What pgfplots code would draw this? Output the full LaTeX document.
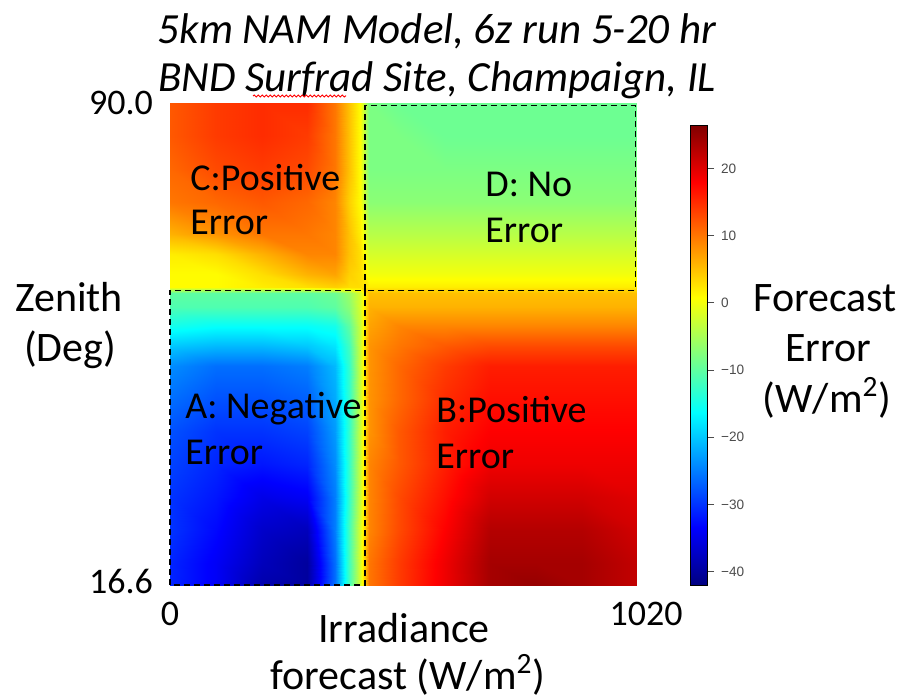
\documentclass[border=0pt]{standalone}
\usepackage{fontspec}
\setmainfont{Carlito}
\newfontfamily\cbfont{Liberation Sans}
\usepackage{pgfplots}
\pgfplotsset{compat=1.18}
\usetikzlibrary{decorations.pathmorphing}

\begin{document}
\begin{tikzpicture}
\path[use as bounding box] (0,0) rectangle (450pt,348.5pt);
\begin{axis}[
  at={(85pt,56pt)}, anchor=south west,
  width=233.5pt, height=241pt, scale only axis,
  xmin=0, xmax=1020, ymin=16.6, ymax=90,
  enlargelimits=false, clip=false,
  axis line style={draw=none},
  major tick length=0pt,
  xtick={0,1020}, ytick={16.6,90},
  xticklabels={0,\phantom{0}1020},
  yticklabels={\raisebox{3.5pt}{16.6},\raisebox{-1pt}{90.0}},
  ticklabel style={font=\fontsize{18}{20}\selectfont},
  xticklabel style={yshift=-5pt},
  yticklabel style={xshift=-5pt},
  colormap/jet,
  point meta min=-42, point meta max=26.5,
  colorbar,
  colorbar style={
    scale only axis,
    at={(parent axis.south east)}, anchor=south west, xshift=18pt,
    width=8.5pt, height=230pt,
    ytick={-40,-30,-20,-10,0,10,20},
    yticklabels={−40,−30,−20,−10,0,10,20},
    yticklabel style={font=\cbfont\fontsize{6.8}{7}\selectfont, text=black!70},
    ytick pos=right, yticklabel pos=right,
    major tick length=3.5pt,
    tick align=outside,
    tick style={black!70, line width=0.5pt},
    axis line style={black, line width=0.4pt},
  },
]
% x: 0 100 200 300 360 390 415 435 500 600 700 800 900 1020
\addplot[surf, shader=interp, mesh/cols=14, point meta=explicit] coordinates {
(0,16.6)[-31] (100,16.6)[-34] (200,16.6)[-39] (300,16.6)[-40] (360,16.6)[-26] (390,16.6)[-12] (415,16.6)[-2] (435,16.6)[10] (500,16.6)[14] (600,16.6)[19] (700,16.6)[24] (800,16.6)[25] (900,16.6)[24] (1020,16.6)[22]
(0,20)[-31] (100,20)[-34] (200,20)[-38] (300,20)[-40] (360,20)[-26] (390,20)[-12] (415,20)[-2] (435,20)[10] (500,20)[14] (600,20)[19] (700,20)[24] (800,20)[24] (900,20)[24] (1020,20)[22]
(0,25)[-30] (100,25)[-33] (200,25)[-37] (300,25)[-38] (360,25)[-25] (390,25)[-12] (415,25)[-2] (435,25)[9] (500,25)[13] (600,25)[18] (700,25)[23] (800,25)[23] (900,25)[23] (1020,25)[21]
(0,30)[-30] (100,30)[-32] (200,30)[-35] (300,30)[-34] (360,30)[-25] (390,30)[-13] (415,30)[-3] (435,30)[9] (500,30)[13] (600,30)[17] (700,30)[21] (800,30)[21] (900,30)[21] (1020,30)[20]
(0,35)[-29] (100,35)[-31] (200,35)[-32] (300,35)[-31] (360,35)[-24] (390,35)[-13] (415,35)[-3] (435,35)[9] (500,35)[12] (600,35)[16] (700,35)[19] (800,35)[19] (900,35)[19] (1020,35)[19]
(0,40)[-28] (100,40)[-30] (200,40)[-30] (300,40)[-29] (360,40)[-23] (390,40)[-13] (415,40)[-3] (435,40)[8] (500,40)[12] (600,40)[16] (700,40)[18] (800,40)[18] (900,40)[18] (1020,40)[18]
(0,45)[-26] (100,45)[-28] (200,45)[-28] (300,45)[-27] (360,45)[-22] (390,45)[-13] (415,45)[-3] (435,45)[8] (500,45)[11] (600,45)[15] (700,45)[17] (800,45)[17] (900,45)[17] (1020,45)[17]
(0,50)[-24] (100,50)[-26] (200,50)[-26] (300,50)[-25] (360,50)[-21] (390,50)[-13] (415,50)[-3] (435,50)[8] (500,50)[11] (600,50)[14] (700,50)[16] (800,50)[16] (900,50)[16] (1020,50)[16]
(0,53)[-20] (100,53)[-21] (200,53)[-21] (300,53)[-20] (360,53)[-18] (390,53)[-12] (415,53)[-3] (435,53)[8] (500,53)[10] (600,53)[12] (700,53)[13] (800,53)[13] (900,53)[13] (1020,53)[13]
(0,56)[-15] (100,56)[-16] (200,56)[-16] (300,56)[-16] (360,56)[-15] (390,56)[-10] (415,56)[-3] (435,56)[7] (500,56)[9] (600,56)[9] (700,56)[9] (800,56)[9] (900,56)[9] (1020,56)[9]
(0,59)[-11] (100,59)[-11] (200,59)[-11] (300,59)[-11] (360,59)[-10] (390,59)[-7] (415,59)[-2] (435,59)[6] (500,59)[6] (600,59)[6] (700,59)[6] (800,59)[6] (900,59)[6] (1020,59)[6]
(0,61)[-10] (100,61)[-10] (200,61)[-10] (300,61)[-10] (360,61)[-9] (390,61)[-6] (415,61)[-2] (435,61)[5] (500,61)[5] (600,61)[5] (700,61)[5] (800,61)[5] (900,61)[5] (1020,61)[5]
(0,62)[1] (100,62)[1] (200,62)[2] (300,62)[3] (360,62)[4] (390,62)[3] (415,62)[3] (435,62)[2] (500,62)[2] (600,62)[2] (700,62)[2] (800,62)[2] (900,62)[2] (1020,62)[2]
(0,64)[1] (100,64)[1] (200,64)[3] (300,64)[6] (360,64)[7] (390,64)[4] (415,64)[3] (435,64)[0] (500,64)[0] (600,64)[0] (700,64)[0] (800,64)[0] (900,64)[0] (1020,64)[0]
(0,67)[2] (100,67)[3] (200,67)[6] (300,67)[9] (360,67)[9] (390,67)[5] (415,67)[3] (435,67)[-2] (500,67)[-2] (600,67)[-2] (700,67)[-2] (800,67)[-2] (900,67)[-2] (1020,67)[-2]
(0,70)[6] (100,70)[8] (200,70)[10] (300,70)[10] (360,70)[9] (390,70)[5] (415,70)[2] (435,70)[-4] (500,70)[-4] (600,70)[-4] (700,70)[-4] (800,70)[-4] (900,70)[-4] (1020,70)[-4]
(0,75)[10] (100,75)[11] (200,75)[12] (300,75)[11] (360,75)[9] (390,75)[4] (415,75)[1] (435,75)[-7] (500,75)[-7] (600,75)[-7] (700,75)[-7] (800,75)[-7] (900,75)[-7] (1020,75)[-7]
(0,80)[11] (100,80)[13] (200,80)[14] (300,80)[13] (360,80)[10] (390,80)[5] (415,80)[1] (435,80)[-8] (500,80)[-8] (600,80)[-8] (700,80)[-8] (800,80)[-8] (900,80)[-8] (1020,80)[-8]
(0,85)[12] (100,85)[14] (200,85)[15] (300,85)[14] (360,85)[10] (390,85)[5] (415,85)[1] (435,85)[-8] (500,85)[-8] (600,85)[-9] (700,85)[-9] (800,85)[-9] (900,85)[-9] (1020,85)[-9]
(0,90)[12] (100,90)[14] (200,90)[15] (300,90)[15] (360,90)[10] (390,90)[5] (415,90)[1] (435,90)[-8] (500,90)[-9] (600,90)[-9] (700,90)[-9] (800,90)[-9] (900,90)[-9] (1020,90)[-9]
};
\draw[black, line width=0.6pt, dash pattern=on 3pt off 2pt] (axis cs:0,16.6) rectangle (axis cs:426,61.5);
\draw[black, line width=0.6pt, dash pattern=on 3pt off 2pt] (axis cs:426,61.5) rectangle (axis cs:1016,89.6);
\begin{scope}[every node/.style={anchor=base west, inner sep=0pt, font=\fontsize{19}{22}\selectfont}]
\node at (axis cs:43.7,76.75) {C:Positive};
\node at (axis cs:43.7,70.05) {Error};
\node at (axis cs:688,75.7) {D: No};
\node at (axis cs:688,68.8) {Error};
\node at (axis cs:32.8,42.0) {A: Negative};
\node at (axis cs:32.8,34.9) {Error};
\node at (axis cs:581,41.3) {B:Positive};
\node at (axis cs:581,34.4) {Error};
\end{scope}
\end{axis}
\begin{scope}[every node/.style={anchor=base, inner sep=0pt, font=\fontsize{21}{24}\selectfont}]
\node[font=\fontsize{21.5}{24}\selectfont\itshape] at (218.5pt,326.5pt) {5km NAM Model, 6z run 5-20 hr};
\node[font=\fontsize{21.5}{24}\selectfont\itshape] at (218.5pt,302.5pt) {BND Surfrad Site, Champaign, IL};
\node at (34.5pt,192.5pt) {Zenith};
\node at (35pt,167.5pt) {(Deg)};
\node at (202pt,27.5pt) {Irradiance};
\node at (204pt,4pt) {forecast (W/m\textsuperscript{2})};
\node at (412.5pt,192.5pt) {Forecast};
\node at (414pt,167.5pt) {Error};
\node at (413.5pt,142.5pt) {(W/m\textsuperscript{2})};
\end{scope}
\draw[red, line width=0.5pt, decorate, decoration={snake, amplitude=0.5pt, segment length=2pt}] (126.5pt,300.5pt) -- (173pt,300.5pt);
\end{tikzpicture}
\end{document}
